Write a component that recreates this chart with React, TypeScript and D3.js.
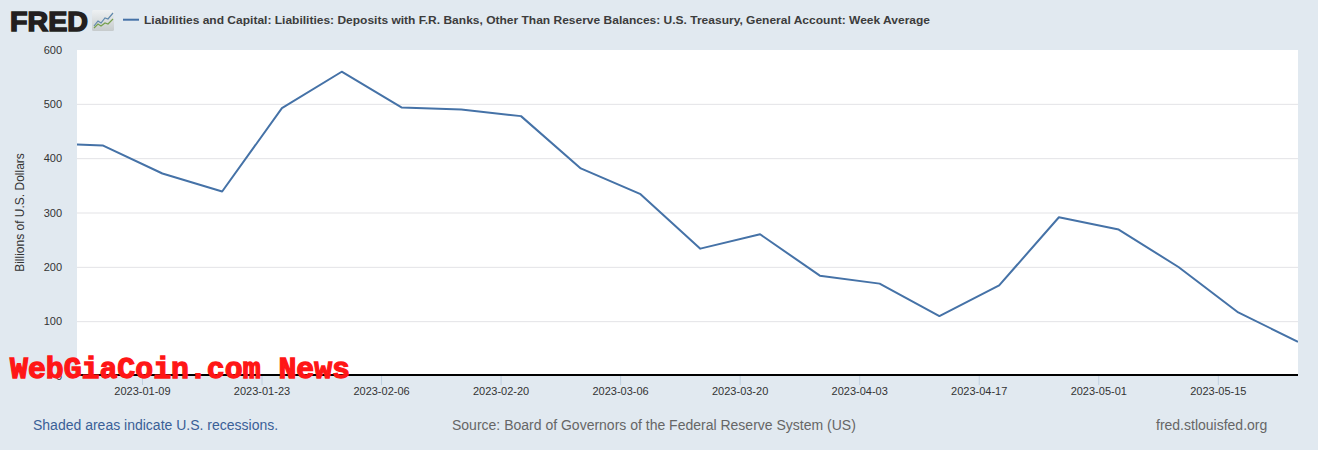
import React from "react";
import * as d3 from "d3";

const dates = ["2022-12-28","2023-01-04","2023-01-11","2023-01-18","2023-01-25","2023-02-01","2023-02-08","2023-02-15","2023-02-22","2023-03-01","2023-03-08","2023-03-15","2023-03-22","2023-03-29","2023-04-05","2023-04-12","2023-04-19","2023-04-26","2023-05-03","2023-05-10","2023-05-17","2023-05-24"];
const values = [428,424.3,372.7,339.5,493,560,494.3,490.6,478.3,382,334.6,234.4,260.8,184.7,170,110.3,166.8,292.2,269.5,200.6,117,63];
const xTicks = ["2023-01-09","2023-01-23","2023-02-06","2023-02-20","2023-03-06","2023-03-20","2023-04-03","2023-04-17","2023-05-01","2023-05-15"];
const yTicks = [0,100,200,300,400,500,600];
const title = "Liabilities and Capital: Liabilities: Deposits with F.R. Banks, Other Than Reserve Balances: U.S. Treasury, General Account: Week Average";
const yLabel = "Billions of U.S. Dollars";
const footerLeft = "Shaded areas indicate U.S. recessions.";
const footerMid = "Source: Board of Governors of the Federal Reserve System (US)";
const footerRight = "fred.stlouisfed.org";
const watermark = "WebGiaCoin.com News";
const iconX = [2,6,9,13,16,21];
const iconBlueV = [5,10,8,13,12,18];
const iconGreenV = [3,7,5,8,7,12];

const font = "'Liberation Sans', Arial, sans-serif";
const left = 77, right = 1298, top = 50, zero = 376;
const parse = (s: string) => new Date(s + "T00:00:00Z");
const dataTime = (s: string) => new Date(s + "T08:00:00Z");

export default function App() {
  const x = d3.scaleUtc().domain([dataTime("2023-01-01"), dataTime("2023-05-24")]).range([left, right]);
  const y = d3.scaleLinear().domain([0, 600]).range([zero, top]);
  const line = d3.line<number>().x((_, i) => x(dataTime(dates[i]))).y(d => y(d));
  const ix = d3.scaleLinear().domain([0, 22]).range([92, 114]);
  const iy = d3.scaleLinear().domain([0, 22]).range([31, 9]);
  const iconLine = d3.line<number>().x((_, i) => ix(iconX[i])).y(d => iy(d));
  return (
    <svg width={1318} height={450} style={{ position: "fixed", left: 0, top: 0, display: "block" }} fontFamily={font}>
      <defs>
        <clipPath id="plot"><rect x={left} y={top} width={right - left} height={zero - top} /></clipPath>
        <linearGradient id="ic" x1="0" y1="0" x2="0" y2="1">
          <stop offset="0" stopColor="#eef1f3" /><stop offset="1" stopColor="#c6cbcc" />
        </linearGradient>
      </defs>
      <rect width={1318} height={450} fill="#e1e9f0" />
      <rect x={left} y={top} width={right - left} height={zero - top} fill="#fff" />
      {yTicks.filter(t => t > 0 && t < 600).map(t => (
        <line key={t} x1={left} x2={right} y1={y(t)} y2={y(t)} stroke="#e3e3e6" strokeWidth={1} />
      ))}
      <path d={line(values) || ""} fill="none" stroke="#4572a7" strokeWidth={2} strokeLinejoin="round" clipPath="url(#plot)" />
      <line x1={left} x2={right} y1={375} y2={375} stroke="#000" strokeWidth={2} />
      {xTicks.map(t => (
        <g key={t}>
          <line x1={x(parse(t))} x2={x(parse(t))} y1={376} y2={385} stroke="#c0d0e0" />
          <text x={x(parse(t))} y={395} fontSize={11} fill="#333" textAnchor="middle">{t}</text>
        </g>
      ))}
      {yTicks.map(t => (
        <text key={t} x={62} y={y(t) + 3.6} fontSize={11} fill="#333" textAnchor="end">{t}</text>
      ))}
      <text transform="translate(24,212.5) rotate(-90)" fontSize={12} fill="#333" textAnchor="middle">{yLabel}</text>
      <text x={10} y={30.5} fontSize={28} fontWeight={700} fill="#231f20" stroke="#231f20" strokeWidth={1.5} textLength={78} lengthAdjust="spacingAndGlyphs">FRED</text>
      <rect x={92} y={10} width={22} height={21} rx={1.5} fill="url(#ic)" />
      <path d={iconLine(iconBlueV) || ""} fill="none" stroke="#5f88ad" strokeWidth={1.2} />
      <path d={iconLine(iconGreenV) || ""} fill="none" stroke="#76a04e" strokeWidth={1.2} />
      <line x1={123} x2={139} y1={19.7} y2={19.7} stroke="#4572a7" strokeWidth={2} />
      <text x={144} y={23.5} fontSize={11} fontWeight={700} fill="#3c3c3c" textLength={786} lengthAdjust="spacingAndGlyphs">{title}</text>
      <text x={33} y={430} fontSize={14} fill="#3a6097">{footerLeft}</text>
      <text x={452} y={430} fontSize={14} fill="#666">{footerMid}</text>
      <text x={1156} y={430} fontSize={14} fill="#666">{footerRight}</text>
      <text x={10} y={378} fontFamily="'Liberation Mono', monospace" fontSize={30} fontWeight={700} fill="#ff1616" stroke="#ff1616" strokeWidth={1.3} textLength={340} lengthAdjust="spacingAndGlyphs">{watermark}</text>
    </svg>
  );
}
